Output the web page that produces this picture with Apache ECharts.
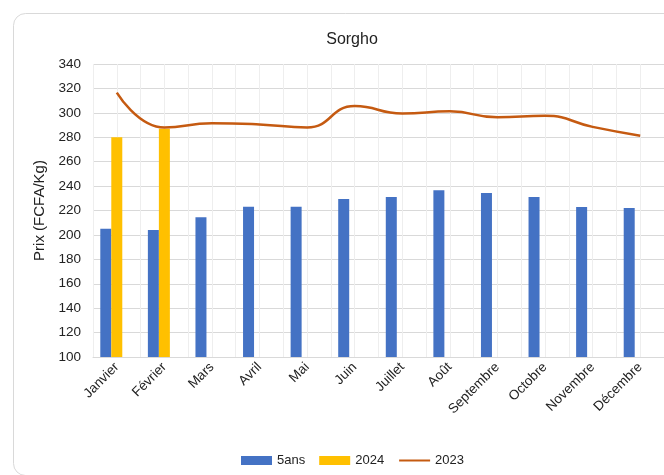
<!DOCTYPE html>
<html>
<head>
<meta charset="utf-8">
<script src="https://cdn.jsdelivr.net/npm/echarts@6/dist/echarts.min.js"></script>
<style>html,body{margin:0;padding:0;background:#fff;}#c{width:664px;height:475px;}</style>
</head>
<body>
<div id="c"></div>
<script>
const months = ['Janvier','Février','Mars','Avril','Mai','Juin','Juillet','Août','Septembre','Octobre','Novembre','Décembre'];
const cinqAns = [205, 204, 214.5, 223, 223, 229.5, 231, 236.5, 234.3, 231, 222.8, 222];
const y2024 = [280, 287, null, null, null, null, null, null, null, null, null, null];
const y2023 = [316.5, 288, 291.5, 290.5, 288, 305.5, 299.5, 301.2, 296.3, 297.6, 288.5, 281.3];
const yTicks = {min: 100, max: 340, interval: 20};

const font = 'Liberation Sans';
const halfBands = [];
for (let i = 0; i < months.length * 2; i++) halfBands.push(String(i));

const chart = echarts.init(document.getElementById('c'), null, {renderer: 'canvas'});
chart.setOption({
  animation: false,
  backgroundColor: '#fff',
  textStyle: {fontFamily: font},
  graphic: [{
    type: 'rect', left: 11, top: 11,
    shape: {width: 720, height: 462, r: 12},
    style: {fill: 'none', stroke: '#d9d9d9', lineWidth: 1}
  }],
  title: {
    text: 'Sorgho', left: 347, top: 27, textAlign: 'center',
    textStyle: {fontFamily: font, fontSize: 16, fontWeight: 'normal', color: '#222'}
  },
  legend: {
    data: [{name: '5ans', icon: 'rect'}, {name: '2024', icon: 'rect'}, {name: '2023', itemStyle: {opacity: 0}}],
    left: 236, top: 449, itemWidth: 31, itemHeight: 9, itemGap: 14,
    textStyle: {fontFamily: font, fontSize: 13, color: '#222'}
  },
  grid: {left: 93, right: 0, top: 64, bottom: 118},
  xAxis: [{
    type: 'category', data: months,
    axisLine: {lineStyle: {color: '#d9d9d9'}},
    axisTick: {show: false},
    axisLabel: {rotate: 45, interval: 0, margin: 8, fontFamily: font, fontSize: 13.5, color: '#222'},
    splitLine: {show: false}
  }, {
    type: 'category', data: halfBands, position: 'bottom',
    axisLine: {show: false}, axisTick: {show: false}, axisLabel: {show: false},
    splitLine: {show: true, interval: 0, lineStyle: {color: '#eeeeee', width: 1}}
  }],
  yAxis: {
    type: 'value', min: yTicks.min, max: yTicks.max, interval: yTicks.interval,
    name: 'Prix (FCFA/Kg)', nameLocation: 'middle', nameGap: 42, nameRotate: 90,
    nameTextStyle: {fontFamily: font, fontSize: 15, color: '#222'},
    axisLine: {show: false}, axisTick: {show: false},
    axisLabel: {margin: 12, fontFamily: font, fontSize: 13.5, color: '#222'},
    splitLine: {lineStyle: {color: '#d9d9d9', width: 1}}
  },
  series: [
    {name: '5ans', type: 'bar', data: cinqAns, barWidth: 11, barGap: '0%', itemStyle: {color: '#4472C4'}, z: 3},
    {name: '2024', type: 'bar', data: y2024, barWidth: 11, barGap: '0%', itemStyle: {color: '#FFC000'}, z: 3},
    {name: 'slot', type: 'bar', data: [], barWidth: 11, barGap: '0%', itemStyle: {color: 'transparent'}},
    {name: '2023', type: 'line', data: y2023, smooth: 0.5, symbol: 'none',
     lineStyle: {color: '#C55A11', width: 2.5}, itemStyle: {color: '#C55A11'}, z: 4}
  ]
});
</script>
</body>
</html>
